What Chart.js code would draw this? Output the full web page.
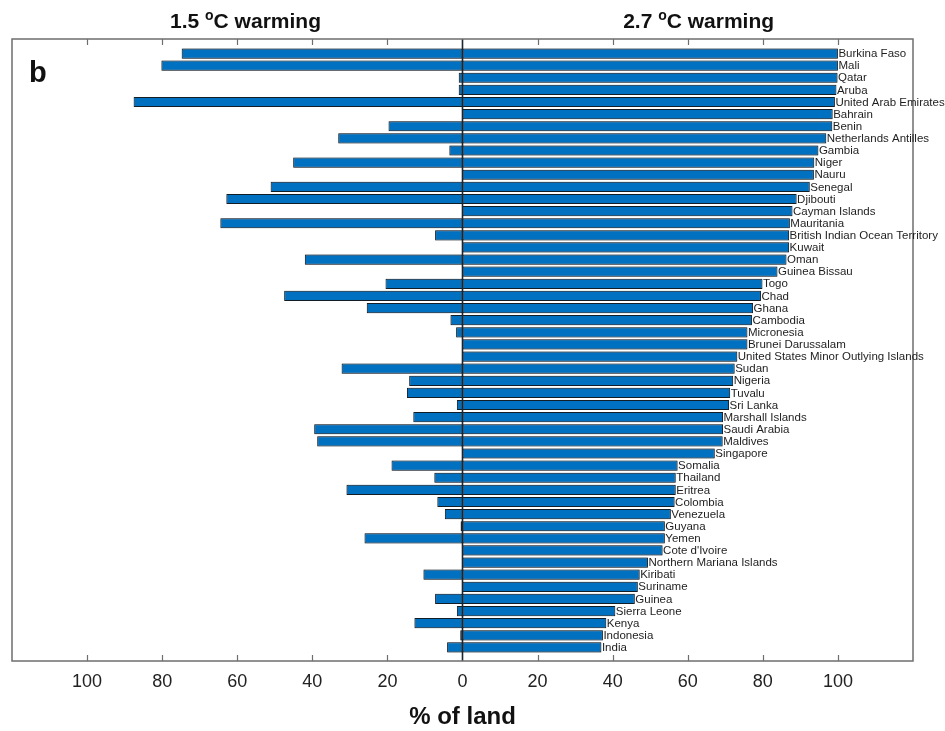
<!DOCTYPE html>
<html>
<head>
<meta charset="utf-8">
<script src="https://cdn.jsdelivr.net/npm/chart.js@4/dist/chart.umd.min.js"></script>
<style>
  html, body { margin: 0; padding: 0; background: #ffffff; }
  #wrap { width: 945px; height: 731px; position: relative; }
</style>
</head>
<body>
<div id="wrap"><canvas id="chart"></canvas></div>
<script>
// Countries, top to bottom
const countries = [
  "Burkina Faso", "Mali", "Qatar", "Aruba", "United Arab Emirates", "Bahrain", "Benin",
  "Netherlands Antilles", "Gambia", "Niger", "Nauru", "Senegal", "Djibouti", "Cayman Islands",
  "Mauritania", "British Indian Ocean Territory", "Kuwait", "Oman", "Guinea Bissau", "Togo",
  "Chad", "Ghana", "Cambodia", "Micronesia", "Brunei Darussalam",
  "United States Minor Outlying Islands", "Sudan", "Nigeria", "Tuvalu", "Sri Lanka",
  "Marshall Islands", "Saudi Arabia", "Maldives", "Singapore", "Somalia", "Thailand", "Eritrea",
  "Colombia", "Venezuela", "Guyana", "Yemen", "Cote d'Ivoire", "Northern Mariana Islands",
  "Kiribati", "Suriname", "Guinea", "Sierra Leone", "Kenya", "Indonesia", "India"
];

// % of land affected at 1.5 °C warming (plotted to the left)
const warming15 = [
  74.8, 80.2, 1.0, 1.0, 87.6, 0, 19.7, 33.1, 3.5, 45.1,
  0, 51.1, 62.9, 0, 64.5, 7.3, 0, 42.0, 0, 20.5,
  47.5, 25.5, 3.2, 1.7, 0, 0, 32.2, 14.2, 14.8, 1.5,
  13.1, 39.5, 38.7, 0, 18.9, 7.5, 30.9, 6.7, 4.7, 0.5,
  26.1, 0, 0, 10.4, 0, 7.3, 1.5, 12.8, 0.6, 4.1
];

// % of land affected at 2.7 °C warming (plotted to the right)
const warming27 = [
  100, 100, 99.9, 99.6, 99.2, 98.6, 98.5, 96.9, 94.8, 93.7,
  93.6, 92.5, 89.0, 87.9, 87.2, 87.0, 87.0, 86.3, 83.9, 79.9,
  79.5, 77.4, 77.1, 75.9, 75.9, 73.2, 72.5, 72.1, 71.3, 71.0,
  69.4, 69.4, 69.3, 67.2, 57.3, 56.8, 56.8, 56.5, 55.5, 53.9,
  53.9, 53.3, 49.4, 47.2, 46.7, 45.9, 40.7, 38.3, 37.4, 37.0
];

// Axis ticks (shown as absolute values on both sides of zero)
const tickValues = [-100, -80, -60, -40, -20, 0, 20, 40, 60, 80, 100];

const panelLetter = "b";
const leftTitle = ["1.5 ", "o", "C warming"];
const rightTitle = ["2.7 ", "o", "C warming"];
const axisTitle = "% of land";

const FONT = '"Liberation Sans", Arial, Helvetica, sans-serif';
const BAR_FILL = '#0070c0';
const BAR_EDGE = '#16212b';

const leftData = warming15.map((v, i) => ({ x: v === 0 ? null : -v, y: i }));
const rightData = warming27.map((v, i) => ({ x: v, y: i }));

const barStyle = {
  backgroundColor: BAR_FILL,
  borderColor: BAR_EDGE,
  borderWidth: 1,
  borderSkipped: false,
  categoryPercentage: 1,
  barPercentage: 0.84,
  grouped: false
};

function drawWarmTitle(ctx, parts, cx, baseline) {
  const big = 'bold 21px ' + FONT;
  const small = 'bold 14px ' + FONT;
  ctx.font = big; const w1 = ctx.measureText(parts[0]).width;
  ctx.font = small; const w2 = ctx.measureText(parts[1]).width;
  ctx.font = big; const w3 = ctx.measureText(parts[2]).width;
  let xPos = cx - (w1 + w2 + w3) / 2;
  ctx.fillStyle = '#111111';
  ctx.textAlign = 'left';
  ctx.textBaseline = 'alphabetic';
  ctx.font = big; ctx.fillText(parts[0], xPos, baseline); xPos += w1;
  ctx.font = small; ctx.fillText(parts[1], xPos, baseline - 8); xPos += w2;
  ctx.font = big; ctx.fillText(parts[2], xPos, baseline);
}

const overlay = {
  id: 'overlay',
  beforeDatasetsDraw(chart) {
    // soft grey halo around every bar
    chart.ctx.save();
    chart.ctx.shadowColor = 'rgba(0,0,0,0.35)';
    chart.ctx.shadowBlur = 2;
  },
  afterDatasetsDraw(chart) {
    chart.ctx.restore();
    const { ctx, chartArea: a, scales: { x, y } } = chart;
    ctx.save();

    // zero line through the bars
    const x0 = x.getPixelForValue(0);
    ctx.strokeStyle = '#1c2630';
    ctx.lineWidth = 1.6;
    ctx.beginPath();
    ctx.moveTo(x0, a.top);
    ctx.lineTo(x0, a.bottom);
    ctx.stroke();

    // plot frame
    ctx.strokeStyle = '#6e6e6e';
    ctx.lineWidth = 1.5;
    ctx.strokeRect(a.left, a.top, a.right - a.left, a.bottom - a.top);

    // inward tick marks on top and bottom edges
    ctx.lineWidth = 1.2;
    tickValues.forEach(v => {
      if (v === 0) return;
      const px = Math.round(x.getPixelForValue(v)) + 0.5;
      ctx.beginPath();
      ctx.moveTo(px, a.top); ctx.lineTo(px, a.top + 6);
      ctx.moveTo(px, a.bottom); ctx.lineTo(px, a.bottom - 6);
      ctx.stroke();
    });

    // country names at the end of each 2.7 °C bar
    ctx.font = '11.5px ' + FONT;
    ctx.fillStyle = '#1e1e1e';
    ctx.textAlign = 'left';
    ctx.textBaseline = 'middle';
    countries.forEach((c, i) => {
      ctx.fillText(c, x.getPixelForValue(warming27[i]) + 0.5, y.getPixelForValue(i) + 0.5);
    });

    // panel letter
    ctx.font = 'bold 29px ' + FONT;
    ctx.fillStyle = '#111111';
    ctx.textBaseline = 'alphabetic';
    ctx.fillText(panelLetter, a.left + 17, a.top + 43);

    // scenario headers above each half
    drawWarmTitle(ctx, leftTitle, x.getPixelForValue(-57.8), 28);
    drawWarmTitle(ctx, rightTitle, x.getPixelForValue(62.9), 28);

    ctx.restore();
  }
};

new Chart(document.getElementById('chart'), {
  type: 'bar',
  data: {
    datasets: [
      Object.assign({ label: '1.5 °C warming', data: leftData }, barStyle),
      Object.assign({ label: '2.7 °C warming', data: rightData }, barStyle)
    ]
  },
  options: {
    indexAxis: 'y',
    responsive: true,
    maintainAspectRatio: false,
    animation: false,
    layout: { padding: { left: 12, right: 32, top: 39, bottom: 0 } },
    scales: {
      x: {
        type: 'linear',
        min: -120,
        max: 120,
        grid: { display: false, drawTicks: false },
        border: { display: false },
        afterBuildTicks(scale) {
          scale.ticks = tickValues.map(v => ({ value: v }));
        },
        ticks: {
          padding: 10.5,
          color: '#222222',
          font: { family: FONT, size: 18 },
          callback: v => String(Math.abs(v))
        },
        title: {
          display: true,
          text: axisTitle,
          color: '#111111',
          font: { family: FONT, size: 24, weight: 'bold', lineHeight: 1.1 },
          padding: { top: 1, bottom: 0 }
        }
      },
      y: {
        type: 'linear',
        reverse: true,
        offset: false,
        min: -1.2,
        max: 50.12,
        display: false
      }
    },
    plugins: {
      legend: { display: false },
      tooltip: { enabled: false }
    }
  },
  plugins: [overlay]
});
</script>
</body>
</html>
